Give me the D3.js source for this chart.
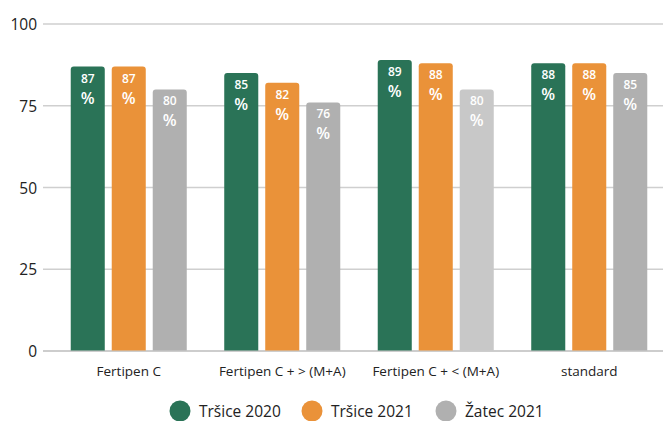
<!DOCTYPE html>
<html><head><meta charset="utf-8">
<script src="https://cdn.jsdelivr.net/npm/d3@7"></script>
<style>body{margin:0;background:#fff}svg{display:block;font-family:"Open Sans",Lato,sans-serif}</style>
</head><body><svg id="c" width="665" height="421"></svg>
<script>
const categories = ["Fertipen C", "Fertipen C + > (M+A)", "Fertipen C + < (M+A)", "standard"];
const seriesNames = ["Tršice 2020", "Tršice 2021", "Žatec 2021"];
const tršice2020 = [87, 85, 89, 88];
const tršice2021 = [87, 82, 88, 88];
const žatec2021 = [80, 76, 80, 85];
const yTicks = [0, 25, 50, 75, 100];
const seriesColors = ["#2a7357", "#ea9239", "#b0b0b0"];
const highlightColor = "#c8c8c8"; // Žatec bar in 3rd group is lighter

const values = [tršice2020, tršice2021, žatec2021];
const svg = d3.select("#c");
const y = d3.scaleLinear().domain([0, 100]).range([351, 24]);
const x0 = d3.scaleBand().domain(categories).range([52, 666]).paddingInner(0).paddingOuter(0);
const x1 = d3.scaleBand().domain(seriesNames).range([0, x0.bandwidth()]).paddingInner(0.17).paddingOuter(0.457);

// gridlines
svg.append("g").selectAll("line").data(yTicks).join("line")
  .attr("x1", 43).attr("x2", 663)
  .attr("y1", d => y(d)).attr("y2", d => y(d))
  .attr("stroke", d => d === 0 ? "#bdbdbd" : "#cfcfcf").attr("stroke-width", 1.5);
svg.append("g").selectAll("text").data(yTicks).join("text")
  .attr("x", 37).attr("y", d => y(d) + 6).attr("text-anchor", "end")
  .attr("font-size", 15.5).attr("fill", "#222").text(d => d);

function barPath(x, w, top, bottom, r) {
  return `M${x},${bottom}V${top + r}Q${x},${top} ${x + r},${top}H${x + w - r}Q${x + w},${top} ${x + w},${top + r}V${bottom}Z`;
}

const data = [];
categories.forEach((c, ci) => seriesNames.forEach((s, si) => {
  data.push({c, s, si, v: values[si][ci],
    color: (ci === 2 && si === 2) ? highlightColor : seriesColors[si]});
}));

const g = svg.append("g");
g.selectAll("path").data(data).join("path")
  .attr("d", d => barPath(x0(d.c) + x1(d.s), x1.bandwidth(), y(d.v), y(0) - 0.5, 3))
  .attr("fill", d => d.color);

const lab = g.selectAll("g.lab").data(data).join("g").attr("class", "lab")
  .attr("transform", d => `translate(${x0(d.c) + x1(d.s) + x1.bandwidth() / 2},${y(d.v)})`);
lab.append("text").attr("y", 16).attr("text-anchor", "middle").attr("font-size", 12)
  .attr("font-weight", 600).attr("fill", "#fff").text(d => d.v);
lab.append("text").attr("y", 37).attr("text-anchor", "middle").attr("font-size", 16)
  .attr("font-weight", 600).attr("fill", "#fff").text("%");

// category labels
svg.append("g").selectAll("text").data(categories).join("text")
  .attr("x", d => x0(d) + x0.bandwidth() / 2).attr("y", 376)
  .attr("text-anchor", "middle").attr("font-size", 13.5).attr("fill", "#222").text(d => d);

// legend
const legX = [180, 312, 446];
const leg = svg.append("g").selectAll("g").data(seriesNames).join("g")
  .attr("transform", (d, i) => `translate(${legX[i]},411)`);
leg.append("circle").attr("r", 10.5).attr("fill", (d, i) => seriesColors[i]);
leg.append("text").attr("x", 19).attr("y", 6).attr("font-size", 15.5).attr("fill", "#222").text(d => d);
</script></body></html>
